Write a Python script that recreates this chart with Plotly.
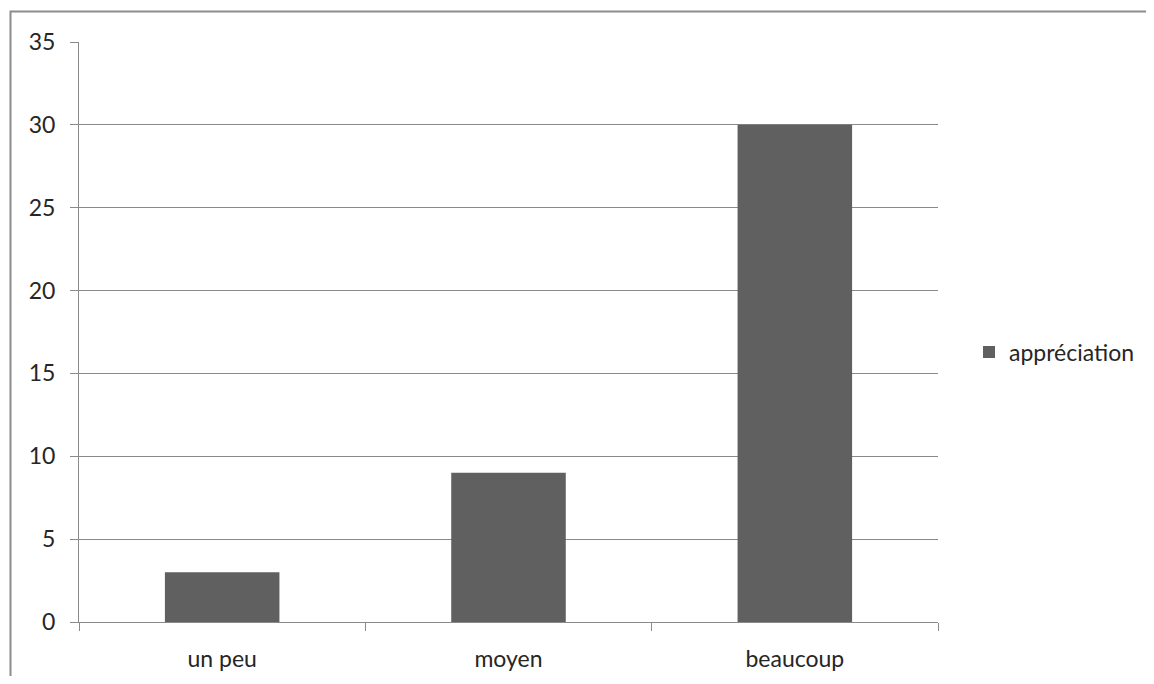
import plotly.graph_objects as go

categories = ["un peu", "moyen", "beaucoup"]
values = [3, 9, 30]
series_name = "appréciation"
y_ticks = [0, 5, 10, 15, 20, 25, 30, 35]

# page has an 8px body margin; work in figure coordinates and avoid scrollbars
OFF = 8
W, H = 1154 - 2 * OFF, 684 - 2 * OFF
L, T = 79 - OFF, 42 - OFF
pw, ph = 938 - 79, 622 - 42
R = W - L - pw
B = H - T - ph

fig = go.Figure()
fig.add_trace(go.Bar(
    x=categories, y=values, name=series_name,
    marker=dict(color="#606060", line=dict(width=0)),
    width=0.4, showlegend=True,
))

grid = "#8a8a8a"
txt = "#262626"
fnt = "Lato, Open Sans, sans-serif"

bx = (10.5 - OFF - L) / pw
by = 1 + (T - (11.5 - OFF)) / ph
fig.update_layout(
    width=W, height=H,
    margin=dict(l=L, r=R, t=T, b=B, autoexpand=False),
    paper_bgcolor="white", plot_bgcolor="white",
    font=dict(family=fnt, size=23, color=txt),
    showlegend=True,
    legend=dict(x=(969 - OFF - L) / pw, y=(622 - 352) / ph, xanchor="left", yanchor="middle",
                font=dict(family=fnt, size=23, color=txt), itemwidth=30,
                bgcolor="rgba(0,0,0,0)"),
    xaxis=dict(
        type="category", showgrid=False, showline=True, linecolor=grid, linewidth=1,
        ticks="outside", tickson="boundaries", ticklen=8, tickcolor=grid,
        tickfont=dict(family=fnt, size=23, color=txt), range=[-0.5, 2.5], fixedrange=True,
        ticklabelstandoff=16, automargin=False,
    ),
    yaxis=dict(
        range=[0, 35], tickvals=y_ticks, showgrid=True, gridcolor=grid, gridwidth=1,
        showline=True, linecolor=grid, linewidth=1, ticks="outside", ticklen=8,
        tickcolor=grid, tickfont=dict(family=fnt, size=23, color=txt), zeroline=False,
        ticklabelstandoff=10, automargin=False,
    ),
    bargap=0.6,
    shapes=[dict(
        type="path", xref="paper", yref="paper",
        path=f"M {bx} {-(B + 30) / ph} L {bx} {by} L {(W + 30 - L) / pw} {by}",
        line=dict(color="#8c8c8c", width=2), layer="below",
    )],
)

fig.write_html("out.html")
